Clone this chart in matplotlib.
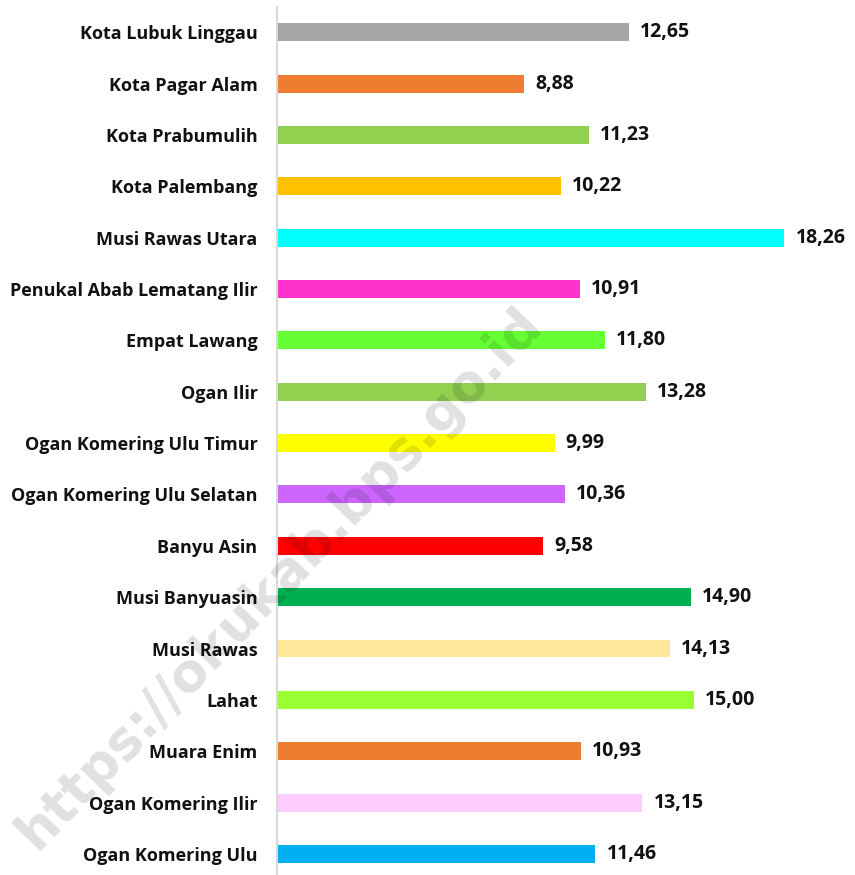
import matplotlib.pyplot as plt

regions = ['Kota Lubuk Linggau', 'Kota Pagar Alam', 'Kota Prabumulih', 'Kota Palembang',
           'Musi Rawas Utara', 'Penukal Abab Lematang Ilir', 'Empat Lawang', 'Ogan Ilir',
           'Ogan Komering Ulu Timur', 'Ogan Komering Ulu Selatan', 'Banyu Asin',
           'Musi Banyuasin', 'Musi Rawas', 'Lahat', 'Muara Enim', 'Ogan Komering Ilir',
           'Ogan Komering Ulu']
values = [12.65, 8.88, 11.23, 10.22, 18.26, 10.91, 11.80, 13.28, 9.99, 10.36, 9.58,
          14.90, 14.13, 15.00, 10.93, 13.15, 11.46]
colors = ['#A5A5A5', '#ED7D31', '#92D050', '#FFC000', '#00FFFF', '#FF33CC', '#66FF33',
          '#92D050', '#FFFF00', '#CC66FF', '#FF0000', '#00B050', '#FFE699', '#99FF33',
          '#ED7D31', '#FFCCFF', '#00B0F0']

plt.rcParams['font.family'] = ['Open Sans', 'DejaVu Sans']

fig = plt.figure(figsize=(8.55, 8.75), dpi=100)
ax = fig.add_axes([277 / 855, 0, 1 - 277 / 855, 1 - 6.5 / 875])

pos = list(range(len(regions)))
ax.barh(pos, values, height=0.35, color=colors)
ax.set_ylim(16.41, -0.5)
ax.set_xlim(0, 20.8)

for y, v in zip(pos, values):
    ax.text(v + 0.4, y, f'{v:.2f}'.replace('.', ','), va='center', ha='left',
            fontsize=14, fontweight='bold', color='#111111')

ax.set_yticks(pos)
ax.set_yticklabels(regions, fontsize=13, fontweight='bold', color='#111111')
ax.tick_params(axis='y', length=0, pad=14)
ax.set_xticks([])
for s in ['top', 'right', 'bottom']:
    ax.spines[s].set_visible(False)
ax.spines['left'].set_color('#D9D9D9')
ax.spines['left'].set_linewidth(1.5)

# watermark
fig.text(280 / 855, 1 - 578 / 875, 'https://okukab.bps.go.id', rotation=46,
         ha='center', va='center', fontsize=38, fontweight='bold',
         family='DejaVu Sans', color='black', alpha=0.12, zorder=10)

fig.savefig('out.png', dpi=100)
